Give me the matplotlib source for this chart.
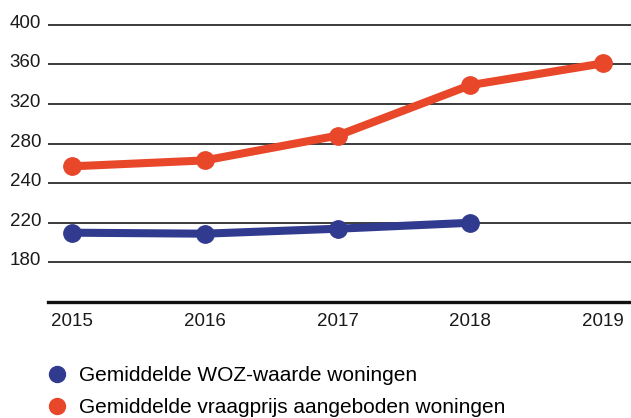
import numpy as np
import matplotlib
matplotlib.use("Agg")
import matplotlib.pyplot as plt
from matplotlib.lines import Line2D
from matplotlib.transforms import ScaledTranslation

plt.rcParams['font.family'] = ['Liberation Sans Narrow', 'Liberation Sans', 'DejaVu Sans']

years = [2015, 2016, 2017, 2018, 2019]
woz_years = [2015, 2016, 2017, 2018]
woz_values = [210, 209, 214, 220]
vraag_values = [257, 263, 288, 339, 361]
ytick_values = [180, 220, 240, 280, 320, 360, 400]
series_labels = ['Gemiddelde WOZ-waarde woningen',
                 'Gemiddelde vraagprijs aangeboden woningen']

blue = '#303A8F'
red = '#E8472A'

# axis positions of the (unevenly labelled) gridlines are evenly spaced
scale_vals = [100, 140, 180, 220, 240, 280, 320, 360, 400, 440, 480]
scale_pos = np.arange(len(scale_vals), dtype=float)

def fwd(v):
    return np.interp(v, scale_vals, scale_pos)

def inv(p):
    return np.interp(p, scale_pos, scale_vals)

fig = plt.figure(figsize=(6.31, 4.18), dpi=100)
ax = fig.add_axes([48/631, 1 - 302/418, 1 - 48/631, 302/418])
ax.set_yscale('function', functions=(fwd, inv))

ax.plot(woz_years, woz_values, color=blue, lw=5.8, marker='o', ms=12.5,
        solid_capstyle='round', zorder=3, clip_on=False)
ax.plot(years, vraag_values, color=red, lw=5.8, marker='o', ms=12.5,
        solid_capstyle='round', zorder=3, clip_on=False)

ax.set_xlim(2015 - 24/132.75, 2019 + 28/132.75)
ax.set_ylim(140, 425)
ax.set_yticks(ytick_values)
ax.set_yticklabels([str(v) for v in ytick_values])
ax.set_xticks(years)
ax.set_xticklabels([str(y) for y in years])

ax.grid(axis='y', color='#1a1a1a', lw=1.2)
ax.set_axisbelow(True)
for s in ['top', 'right', 'left']:
    ax.spines[s].set_visible(False)
ax.spines['bottom'].set_linewidth(2.4)
ax.spines['bottom'].set_color('#111111')
ax.tick_params(axis='y', length=0, pad=5, labelsize=13.5, labelcolor='#1a1a1a')
ax.tick_params(axis='x', length=0, pad=8, labelsize=13.5, labelcolor='#1a1a1a')
off = ScaledTranslation(0, -3/100, fig.dpi_scale_trans)
for lbl in ax.get_yticklabels():
    lbl.set_verticalalignment('baseline')
    lbl.set_transform(lbl.get_transform() + off)

handles = [Line2D([], [], ls='none', marker='o', ms=11.5, color=blue),
           Line2D([], [], ls='none', marker='o', ms=11.5, color=red)]
fig.legend(handles, series_labels, loc='upper left',
           bbox_to_anchor=(46.5/631, 1 - 366/418), frameon=False,
           fontsize=15, handletextpad=0.56, labelspacing=0.62,
           handlelength=1.0, borderaxespad=0, borderpad=0)

fig.savefig('out.png', dpi=100)
